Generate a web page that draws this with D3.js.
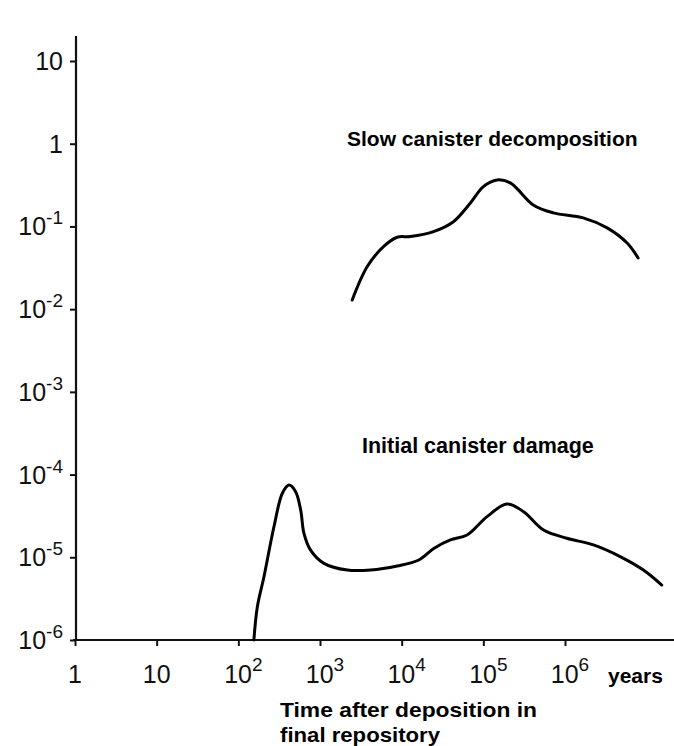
<!DOCTYPE html>
<html>
<head>
<meta charset="utf-8">
<script src="https://cdn.jsdelivr.net/npm/d3@7"></script>
<style>
  html, body { margin: 0; padding: 0; background: #fff; }
  svg { display: block; }
  .tick-num { font-family: "Liberation Sans Narrow", "Liberation Sans", Arial, sans-serif; fill: #111; }
  .bold { font-family: "Liberation Sans", Arial, sans-serif; font-weight: bold; fill: #000; }
</style>
</head>
<body>
<script>
// ---- data ----
const xTickValues = [1, 10, 100, 1e3, 1e4, 1e5, 1e6];
const xTickBase   = ["1", "10", "10", "10", "10", "10", "10"];
const xTickExp    = ["", "", "2", "3", "4", "5", "6"];

const yTickValues = [10, 1, 1e-1, 1e-2, 1e-3, 1e-4, 1e-5, 1e-6];
const yTickBase   = ["10", "1", "10", "10", "10", "10", "10", "10"];
const yTickExp    = ["", "", "-1", "-2", "-3", "-4", "-5", "-6"];

// Slow canister decomposition: time (years), value
const slowTime  = [2480, 3790, 5990, 8810, 12800, 24500, 43000, 69400, 100000, 147000, 214000, 408000, 717000, 1.67e6, 3.28e6, 5.76e6, 7.85e6];
const slowValue = [0.0129, 0.0327, 0.057, 0.074, 0.0754, 0.0865, 0.114, 0.192, 0.303, 0.365, 0.336, 0.182, 0.146, 0.127, 0.096, 0.063, 0.0416];

// Initial canister damage
const initTime  = [155, 171, 206, 273, 346, 417, 503, 580, 636, 767, 1117, 2157, 4154, 8810, 16200, 24700, 39500, 63200, 111000, 195000, 311000, 546000, 1.05e6, 2.23e6, 4.73e6, 9.12e6, 1.53e7];
const initValue = [1e-6, 2.53e-6, 5.82e-6, 2.34e-5, 5.94e-5, 7.48e-5, 6.21e-5, 3.73e-5, 1.95e-5, 1.22e-5, 8.45e-6, 7.01e-6, 7.01e-6, 7.85e-6, 9.27e-6, 1.28e-5, 1.62e-5, 1.86e-5, 3.10e-5, 4.41e-5, 3.56e-5, 2.14e-5, 1.70e-5, 1.41e-5, 1.02e-5, 7.01e-6, 4.62e-6];

const labels = {
  slow: "Slow canister decomposition",
  init: "Initial canister damage",
  unit: "years",
  title1: "Time after deposition in",
  title2: "final repository"
};

// ---- drawing ----
const W = 674, H = 746;
const svg = d3.select("body").append("svg").attr("width", W).attr("height", H);

const x = d3.scaleLog().domain([1, 1e6]).range([75, 565]);
const y = d3.scaleLog().domain([1e-6, 10]).range([640, 61]);

// x axis
const xAxis = d3.axisBottom(x).tickValues(xTickValues).tickSize(6).tickSizeOuter(0).tickFormat("");
const gx = svg.append("g").attr("transform", `translate(0,${y(1e-6)})`).call(xAxis);
gx.select(".domain").remove();
gx.selectAll(".tick line").attr("stroke", "#111").attr("stroke-width", 2);
svg.append("line").attr("x1", x(1) - 2).attr("x2", W).attr("y1", y(1e-6)).attr("y2", y(1e-6))
  .attr("stroke", "#111").attr("stroke-width", 2.2);

// y axis
const yAxis = d3.axisLeft(y).tickValues(yTickValues).tickSize(6).tickSizeOuter(0).tickFormat("");
const gy = svg.append("g").attr("transform", `translate(${x(1) + 1},0)`).call(yAxis);
gy.select(".domain").remove();
gy.selectAll(".tick line").attr("stroke", "#111").attr("stroke-width", 2);
svg.append("line").attr("x1", x(1) + 1).attr("x2", x(1) + 1).attr("y1", 36).attr("y2", y(1e-6) + 1)
  .attr("stroke", "#111").attr("stroke-width", 2.2);

// x tick labels
xTickValues.forEach((v, i) => {
  const t = svg.append("text").attr("class", "tick-num")
    .attr("x", x(v) + (xTickExp[i] ? 5 : 0)).attr("y", 683)
    .attr("text-anchor", "middle").style("font-size", "25px");
  t.append("tspan").text(xTickBase[i]);
  if (xTickExp[i]) t.append("tspan").attr("dy", -12).style("font-size", "19px").text(xTickExp[i]);
});

// y tick labels
yTickValues.forEach((v, i) => {
  const t = svg.append("text").attr("class", "tick-num")
    .attr("x", 63).attr("y", y(v) + 9)
    .attr("text-anchor", "end").style("font-size", "25px");
  t.append("tspan").text(yTickBase[i]);
  if (yTickExp[i]) t.append("tspan").attr("dy", -11).style("font-size", "19px").text(yTickExp[i]);
});

// curves
const line = d3.line().x(d => x(d[0])).y(d => y(d[1])).curve(d3.curveCatmullRom.alpha(0.5));
svg.append("path").datum(slowTime.map((t, i) => [t, slowValue[i]]))
  .attr("d", line).attr("fill", "none").attr("stroke", "#000").attr("stroke-width", 3)
  .attr("stroke-linejoin", "round").attr("stroke-linecap", "round");
svg.append("path").datum(initTime.map((t, i) => [t, initValue[i]]))
  .attr("d", line).attr("fill", "none").attr("stroke", "#000").attr("stroke-width", 3)
  .attr("stroke-linejoin", "round").attr("stroke-linecap", "round");

// text labels
svg.append("text").attr("class", "bold").attr("x", 347).attr("y", 146).style("font-size", "21px").text(labels.slow);
svg.append("text").attr("class", "bold").attr("x", 362).attr("y", 453).style("font-size", "21.5px").text(labels.init);
svg.append("text").attr("class", "bold").attr("x", 608).attr("y", 683).style("font-size", "21px").text(labels.unit);
svg.append("text").attr("class", "bold").attr("x", 280).attr("y", 717).style("font-size", "21px")
  .attr("textLength", 257).attr("lengthAdjust", "spacingAndGlyphs").text(labels.title1);
svg.append("text").attr("class", "bold").attr("x", 280).attr("y", 742).style("font-size", "21px")
  .attr("textLength", 160).attr("lengthAdjust", "spacingAndGlyphs").text(labels.title2);
</script>
</body>
</html>
